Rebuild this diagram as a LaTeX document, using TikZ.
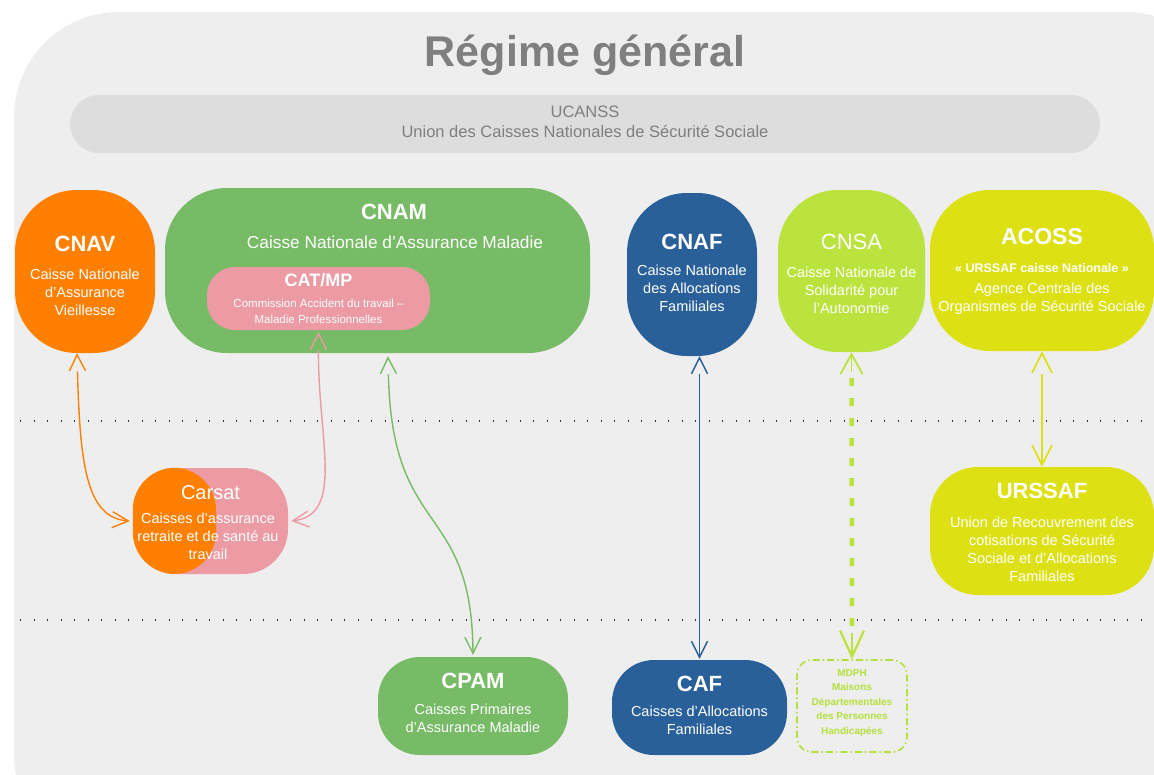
\documentclass[tikz,border=0pt]{standalone}
\usepackage{fontspec}
\setmainfont{Liberation Sans}
\usetikzlibrary{arrows.meta}
\definecolor{bgc}{HTML}{EEEEEE}
\definecolor{ucc}{HTML}{DDDDDD}
\definecolor{titc}{HTML}{7F7F7F}
\definecolor{orc}{HTML}{FF8000}
\definecolor{grc}{HTML}{77BB66}
\definecolor{pkc}{HTML}{EC9BA4}
\definecolor{blc}{HTML}{2A6099}
\definecolor{lgc}{HTML}{BBE33D}
\definecolor{yec}{HTML}{DDE012}
\definecolor{mdc}{HTML}{B4E03C}
\tikzset{
  box/.style={draw=none, inner sep=0pt, rectangle},
  ttl/.style={text=white, font=\bfseries\fontsize{22}{26}\selectfont, inner sep=0pt},
  sub/.style={text=white, align=center, font=\fontsize{14.5}{18}\selectfont, inner sep=0pt},
  link/.style={{Straight Barb[length=16pt,width=16pt].}-{Straight Barb[length=16pt,width=16pt].}, line width=1.4pt},
  biglink/.style={{Straight Barb[length=20pt,width=20pt].}-{Straight Barb[length=20pt,width=20pt].}, line width=1.6pt},
  sep/.style={line width=2pt, dash pattern=on 1.2pt off 12.3pt, black!80},
}
\begin{document}
\begin{tikzpicture}[x=1pt,y=-1pt]
\useasboundingbox (0,0) rectangle (1154,774);
\begin{scope}
\clip (0,0) rectangle (1154,774);
\fill[bgc, rounded corners=105pt] (14,12) rectangle (1230,860);
\end{scope}
% title
\node[text=titc, font=\bfseries\fontsize{43}{50}\selectfont, inner sep=0pt] (title) at (585,55) {Régime général};
% UCANSS
\node[box, fill=ucc, minimum width=1030pt, minimum height=58pt, rounded corners=29pt] (ucanss) at (585,124) {};
\node[text=titc, align=center, font=\fontsize{16.5}{20}\selectfont, inner sep=0pt] (ucanssT) at (585,122) {UCANSS\\Union des Caisses Nationales de Sécurité Sociale};
% separators
\draw[sep] (20,421) -- (1154,421);
\draw[sep] (20,620) -- (1154,620);
% CNAV
\node[box, fill=orc, minimum width=140pt, minimum height=163pt, rounded corners=62pt] (cnav) at (85,271.5) {};
\node[ttl] (cnavT) at (85,244) {CNAV};
\node[sub] (cnavS) at (85,292) {Caisse Nationale\\d’Assurance\\Vieillesse};
% CNAM
\node[box, fill=grc, minimum width=425pt, minimum height=165pt, rounded corners=62pt] (cnam) at (377.5,270.5) {};
\node[ttl] (cnamT) at (394,212) {CNAM};
\node[sub, font=\fontsize{17.3}{20}\selectfont] (cnamS) at (395,242) {Caisse Nationale d’Assurance Maladie};
\node[box, fill=pkc, minimum width=223pt, minimum height=63pt, rounded corners=28pt] (catmp) at (318.5,298.5) {};
\node[ttl, font=\bfseries\fontsize{18}{22}\selectfont] (catmpT) at (318.5,280) {CAT/MP};
\node[sub, font=\fontsize{11.5}{16}\selectfont] (catmpS) at (318.5,311) {Commission Accident du travail –\\Maladie Professionnelles};
% CNAF
\node[box, fill=blc, minimum width=130pt, minimum height=163pt, rounded corners=60pt] (cnaf) at (692,274.5) {};
\node[ttl] (cnafT) at (692,242) {CNAF};
\node[sub] (cnafS) at (692,288) {Caisse Nationale\\des  Allocations\\Familiales};
% CNSA
\node[box, fill=lgc, minimum width=147pt, minimum height=162pt, rounded corners=60pt] (cnsa) at (851.5,271) {};
\node[ttl, font=\fontsize{22}{26}\selectfont] (cnsaT) at (851.5,242) {CNSA};
\node[sub] (cnsaS) at (851.5,290) {Caisse Nationale de\\Solidarité pour\\l’Autonomie};
% ACOSS
\node[box, fill=yec, minimum width=224pt, minimum height=161pt, rounded corners=60pt] (acoss) at (1042,270.5) {};
\node[ttl, font=\bfseries\fontsize{23}{26}\selectfont] (acossT) at (1042,237) {ACOSS};
\node[sub, font=\bfseries\fontsize{12.5}{18}\selectfont] (acossQ) at (1042,268) {« URSSAF caisse Nationale »};
\node[sub] (acossS) at (1042,299) {Agence Centrale des\\Organismes de Sécurité Sociale};
% Carsat
\node[box, fill=pkc, minimum width=155pt, minimum height=106pt, rounded corners=45pt] (carsat) at (210.5,521) {};
\fill[orc, rounded corners=42pt] (carsat.north west) rectangle (216,574);
\node[ttl, font=\fontsize{20}{24}\selectfont] (carsatT) at (210.5,493) {Carsat};
\node[sub] (carsatS) at (208,536) {Caisses  d’assurance\\retraite et de santé au\\travail};
% URSSAF
\node[box, fill=yec, minimum width=224pt, minimum height=128pt, rounded corners=48pt] (urssaf) at (1042,531) {};
\node[ttl] (urssafT) at (1042,491) {URSSAF};
\node[sub] (urssafS) at (1042,549) {Union de Recouvrement des\\cotisations de Sécurité\\Sociale et d’Allocations\\Familiales};
% CPAM
\node[box, fill=grc, minimum width=190pt, minimum height=98pt, rounded corners=42pt] (cpam) at (473,706) {};
\node[ttl] (cpamT) at (473,681) {CPAM};
\node[sub] (cpamS) at (473,718) {Caisses  Primaires\\d’Assurance Maladie};
% CAF
\node[box, fill=blc, minimum width=175pt, minimum height=95pt, rounded corners=42pt] (caf) at (699.5,707.5) {};
\node[ttl] (cafT) at (699.5,684) {CAF};
\node[sub] (cafS) at (699.5,720) {Caisses d’Allocations\\Familiales};
% MDPH
\node[box, draw=mdc, line width=1.6pt, dash pattern=on 7pt off 3pt on 1.5pt off 3pt, minimum width=110pt, minimum height=92pt, rounded corners=15pt] (mdph) at (852,706) {};
\node[text=mdc, align=center, font=\bfseries\fontsize{10}{14.5}\selectfont, inner sep=0pt] (mdphT) at (852,703) {MDPH\\Maisons\\Départementales\\des Personnes\\Handicapées};
% connectors
\draw[link, orc] ([xshift=-8pt]cnav.south) .. controls (80,470) and (88,518) .. ([xshift=-3pt]carsat.west);
\draw[link, pkc] ([yshift=-2pt]catmp.south) .. controls (318,440) and (345,515) .. ([xshift=3pt]carsat.east);
\draw[link, grc] ([xshift=10.5pt,yshift=-3pt]cnam.south) .. controls (392,540) and (472,500) .. ([yshift=2pt]cpam.north);
\draw[link, blc] (caf.north |- cnaf.south) -- ([yshift=1pt]caf.north);
\draw[lgc, line width=4.5pt, dash pattern=on 8pt off 12pt] ([yshift=-26pt]cnsa.south) -- ([yshift=30pt]mdph.north);
\draw[lgc, line width=1.8pt, -{Straight Barb[length=20pt,width=22pt].}] ([yshift=-20pt]cnsa.south) -- (cnsa.south);
\draw[lgc, line width=2.2pt, -{Straight Barb[length=26pt,width=24pt].}] ([yshift=26pt]mdph.north) -- (mdph.north);
\draw[biglink, yec] (acoss.south) -- (urssaf.north);
\end{tikzpicture}
\end{document}
